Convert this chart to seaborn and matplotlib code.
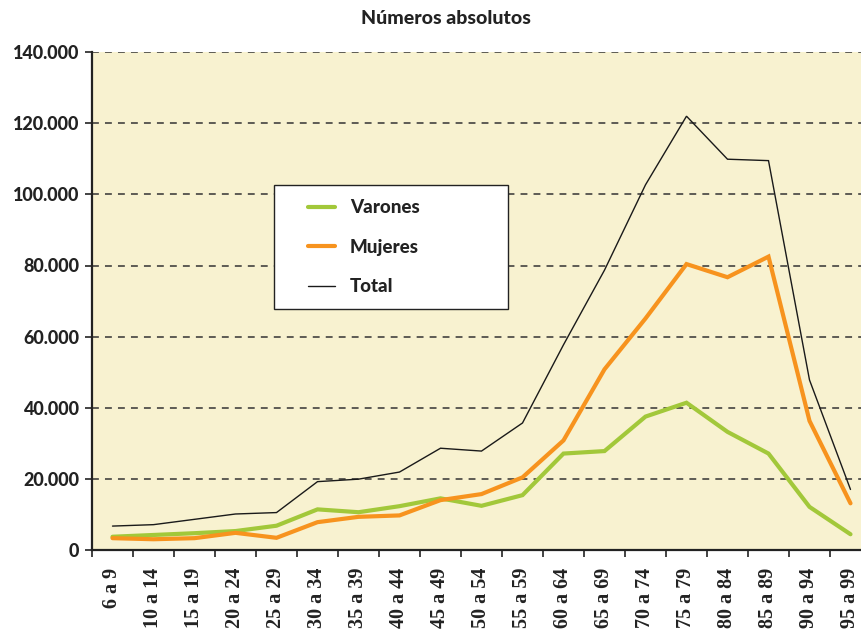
import matplotlib
matplotlib.use("Agg")
import matplotlib.pyplot as plt
import seaborn as sns
import pandas as pd
import numpy as np
from matplotlib.legend_handler import HandlerLine2D
from matplotlib.ticker import FuncFormatter, FixedLocator

grupos = ["6 a 9", "10 a 14", "15 a 19", "20 a 24", "25 a 29", "30 a 34",
          "35 a 39", "40 a 44", "45 a 49", "50 a 54", "55 a 59", "60 a 64",
          "65 a 69", "70 a 74", "75 a 79", "80 a 84", "85 a 89", "90 a 94",
          "95 a 99"]
varones = [3700, 4200, 4700, 5300, 6800, 11400, 10600, 12300, 14500, 12400,
           15400, 27100, 27800, 37500, 41400, 33200, 27100, 12100, 4400]
mujeres = [3300, 3000, 3300, 4800, 3400, 7800, 9300, 9700, 14000, 15700,
           20400, 30800, 50800, 65100, 80400, 76700, 82500, 36300, 13100]
total = [6700, 7100, 8600, 10100, 10500, 19200, 19900, 21900, 28600, 27800,
         35700, 57700, 78700, 102700, 122000, 109900, 109500, 47800, 17000]
series_names = ["Varones", "Mujeres", "Total"]
y_ticks = [0, 20000, 40000, 60000, 80000, 100000, 120000, 140000]
titulo = "Números absolutos"

colors = {"Varones": "#A2C83A", "Mujeres": "#F7931E", "Total": "#1A1A1A"}
widths = {"Varones": 3.0, "Mujeres": 3.0, "Total": 1.0}

df = pd.DataFrame({
    "grupo": grupos * 3,
    "valor": varones + mujeres + total,
    "serie": ["Varones"] * len(grupos) + ["Mujeres"] * len(grupos) + ["Total"] * len(grupos),
})
df["pos"] = list(range(len(grupos))) * 3

sns.set_style("white")
plt.rcParams["font.family"] = ["Lato", "DejaVu Sans"]

fig = plt.figure(figsize=(8.62, 6.35), dpi=100)
W, H = 862, 635
ax_left, ax_right, ax_top, ax_bottom = 92, 871, 52.2, 549.9
ax = fig.add_axes([ax_left / W, (H - ax_bottom) / H, (ax_right - ax_left) / W, (ax_bottom - ax_top) / H])
ax.set_facecolor("#F8F2D0")

for name in series_names:
    sub = df[df["serie"] == name]
    sns.lineplot(data=sub, x="pos", y="valor", color=colors[name], linewidth=widths[name],
                 ax=ax, label=name, sort=False, solid_joinstyle="miter")

ax.set_xlim(-0.5, len(grupos) - 0.5)
ax.set_ylim(0, 140000)
ax.set_xlabel("")
ax.set_ylabel("")

# y axis
ax.yaxis.set_major_locator(FixedLocator(y_ticks))
ax.yaxis.set_major_formatter(FuncFormatter(lambda v, p: f"{v:,.0f}".replace(",", ".")))
ax.yaxis.grid(True, linestyle=(0, (4.5, 4)), color="#333333", linewidth=1.1)
ax.xaxis.grid(False)
ax.set_axisbelow(True)
ax.tick_params(axis="y", which="major", length=5, width=1.2, color="#222222", pad=4,
               labelsize=13, left=True)
for lab in ax.get_yticklabels():
    lab.set_fontweight("black")
    lab.set_color("#222222")

# x axis
ax.set_xticks(range(len(grupos)))
ax.set_xticklabels(grupos, rotation=90, ha="center", va="top",
                   fontfamily=["Liberation Serif", "DejaVu Serif"], fontweight="bold",
                   fontsize=14.5, color="#222222")
ax.set_xticks(np.arange(-0.5, len(grupos), 1.0), minor=True)
ax.tick_params(axis="x", which="major", length=0, pad=13)
ax.tick_params(axis="x", which="minor", length=5, width=1.2, color="#222222", bottom=True)

for s in ["top", "right"]:
    ax.spines[s].set_visible(False)
for s in ["left", "bottom"]:
    ax.spines[s].set_color("#222222")
    ax.spines[s].set_linewidth(1.6)


class ShortLine(HandlerLine2D):
    def get_xdata(self, legend, xdescent, ydescent, width, height, fontsize):
        return ([-xdescent + 0.43 * width, -xdescent + width],
                [-xdescent + 0.8 * width])


handles, labels = ax.get_legend_handles_labels()
lx0 = (274 - ax_left) / (ax_right - ax_left)
lx1 = (508 - ax_left) / (ax_right - ax_left)
ly1 = (ax_bottom - 185) / (ax_bottom - ax_top)
ly0 = (ax_bottom - 309) / (ax_bottom - ax_top)
leg = ax.legend(handles, labels, loc="upper left",
                bbox_to_anchor=(lx0, ly0, lx1 - lx0, ly1 - ly0), mode="expand",
                borderaxespad=0, frameon=True, fancybox=False, framealpha=1,
                edgecolor="#222222", facecolor="white", prop={"weight": "black", "size": 13.5},
                handlelength=2.52, handletextpad=0.77, borderpad=0.75, labelspacing=1.2,
                handler_map={h: ShortLine() for h in handles})
leg.get_frame().set_linewidth(1.0)
for t in leg.get_texts():
    t.set_color("#222222")

fig.text(446 / W, 1 - 18 / H, titulo, ha="center", va="center", fontsize=14,
         fontweight="black", color="#222222")

fig.savefig("out.png", dpi=100)
